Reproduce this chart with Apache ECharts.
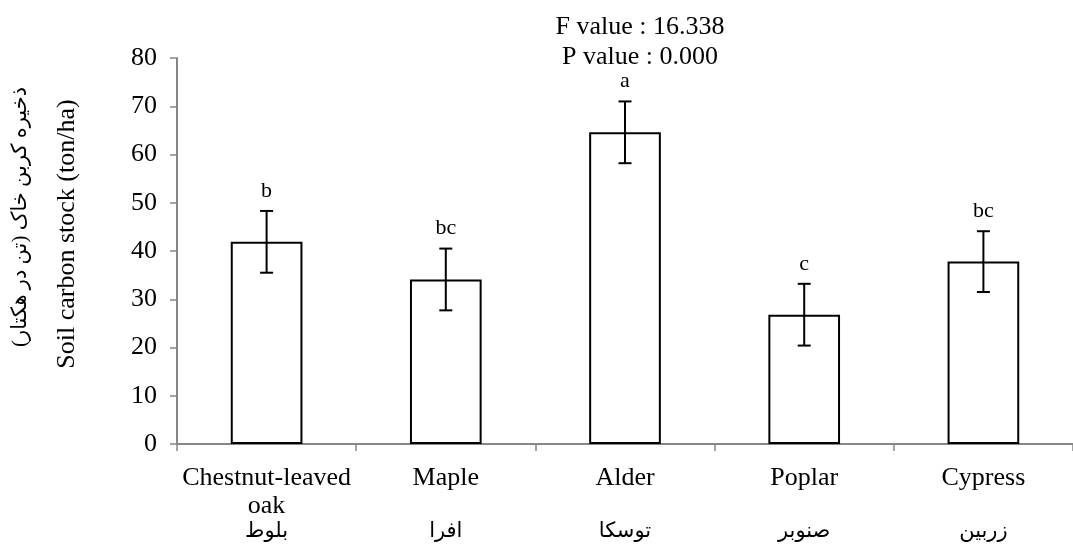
<!DOCTYPE html>
<html>
<head>
<meta charset="utf-8">
<script src="https://cdn.jsdelivr.net/npm/echarts@6/dist/echarts.min.js"></script>
<style>
  html, body { margin: 0; padding: 0; background: #fff; }
  #main { width: 1073px; height: 544px; }
</style>
</head>
<body>
<div id="main"></div>
<script>
var namesEn = ['Chestnut-leaved\noak', 'Maple', 'Alder', 'Poplar', 'Cypress'];
var namesFa = ['بلوط', 'افرا', 'توسکا', 'صنوبر', 'زربین'];

var carbon = [41.9, 34.1, 64.6, 26.8, 37.8];
var errs = [6.4, 6.4, 6.4, 6.4, 6.3];
var letters = ['b', 'bc', 'a', 'c', 'bc'];

var yTicks = [0, 10, 20, 30, 40, 50, 60, 70, 80];

var fValue = 'F value : 16.338';
var pValue = 'P value : 0.000';

var serif = "'Liberation Serif', 'Times New Roman', 'DejaVu Sans', serif";

var myChart = echarts.init(document.getElementById('main'));

var errData = carbon.map(function (m, i) {
    return [i, m - errs[i], m + errs[i]];
});

// x labels: english lines then persian name
var catLabels = namesEn.map(function (n, i) {
    var parts = n.split('\n');
    var lines = parts.map(function (p) { return '{en|' + p + '}'; });
    if (lines.length < 2) lines.push('{en| }');
    lines.push('{fa|' + namesFa[i] + '}');
    return lines.join('\n');
});

option = {
    animation: false,
    grid: {
        left: 177,
        top: 58,
        width: 909,
        height: 386
    },
    graphic: [{
        type: 'text',
        x: 640,
        y: 27,
        style: {
            text: fValue,
            font: '26px ' + serif,
            fill: '#000',
            textAlign: 'center',
            textVerticalAlign: 'middle'
        }
    }, {
        type: 'text',
        x: 640,
        y: 57,
        style: {
            text: pValue,
            font: '26px ' + serif,
            fill: '#000',
            textAlign: 'center',
            textVerticalAlign: 'middle'
        }
    }, {
        type: 'text',
        x: 20,
        y: 217,
        rotation: Math.PI / 2,
        style: {
            text: '\u200Fذخیره کربن خاک (تن در هکتار)\u200F',
            font: '21px ' + serif,
            fill: '#000',
            textAlign: 'center',
            textVerticalAlign: 'middle'
        }
    }, {
        type: 'text',
        x: 67,
        y: 234,
        rotation: Math.PI / 2,
        style: {
            text: 'Soil carbon stock (ton/ha)',
            font: '26px ' + serif,
            fill: '#000',
            textAlign: 'center',
            textVerticalAlign: 'middle'
        }
    }],
    xAxis: {
        type: 'category',
        data: catLabels,
        axisLine: { lineStyle: { color: '#868686', width: 2 } },
        axisTick: { show: true, length: 7, interval: 0, lineStyle: { color: '#868686', width: 1.5 } },
        axisLabel: {
            interval: 0,
            margin: 20,
            color: '#000',
            rich: {
                en: { fontFamily: serif, fontSize: 26, lineHeight: 28, color: '#000' },
                fa: { fontFamily: serif, fontSize: 21, lineHeight: 22, color: '#000' }
            }
        },
        splitLine: { show: false }
    },
    yAxis: {
        type: 'value',
        min: yTicks[0],
        max: yTicks[yTicks.length - 1],
        interval: yTicks[1] - yTicks[0],
        axisLine: { show: true, lineStyle: { color: '#868686', width: 2 } },
        axisTick: { show: true, length: 7, lineStyle: { color: '#868686', width: 1.5 } },
        axisLabel: {
            margin: 20,
            color: '#000',
            fontFamily: serif,
            fontSize: 26
        },
        splitLine: { show: false }
    },
    series: [{
        type: 'bar',
        data: carbon,
        barWidth: '40%',
        itemStyle: {
            color: '#fff',
            borderColor: '#000',
            borderWidth: 2
        }
    }, {
        type: 'custom',
        z: 4,
        data: errData,
        renderItem: function (params, api) {
            var x = api.value(0);
            var top = api.coord([x, api.value(2)]);
            var bot = api.coord([x, api.value(1)]);
            var cap = 6.5;
            var ls = { stroke: '#000', lineWidth: 2 };
            return {
                type: 'group',
                children: [{
                    type: 'line',
                    shape: { x1: top[0], y1: top[1], x2: bot[0], y2: bot[1] },
                    style: ls
                }, {
                    type: 'line',
                    shape: { x1: top[0] - cap, y1: top[1], x2: top[0] + cap, y2: top[1] },
                    style: ls
                }, {
                    type: 'line',
                    shape: { x1: bot[0] - cap, y1: bot[1], x2: bot[0] + cap, y2: bot[1] },
                    style: ls
                }, {
                    type: 'text',
                    x: top[0],
                    y: top[1] - 9,
                    style: {
                        text: letters[params.dataIndex],
                        font: '22px ' + serif,
                        fill: '#000',
                        textAlign: 'center',
                        textVerticalAlign: 'bottom'
                    }
                }]
            };
        }
    }]
};

myChart.setOption(option);
</script>
</body>
</html>
